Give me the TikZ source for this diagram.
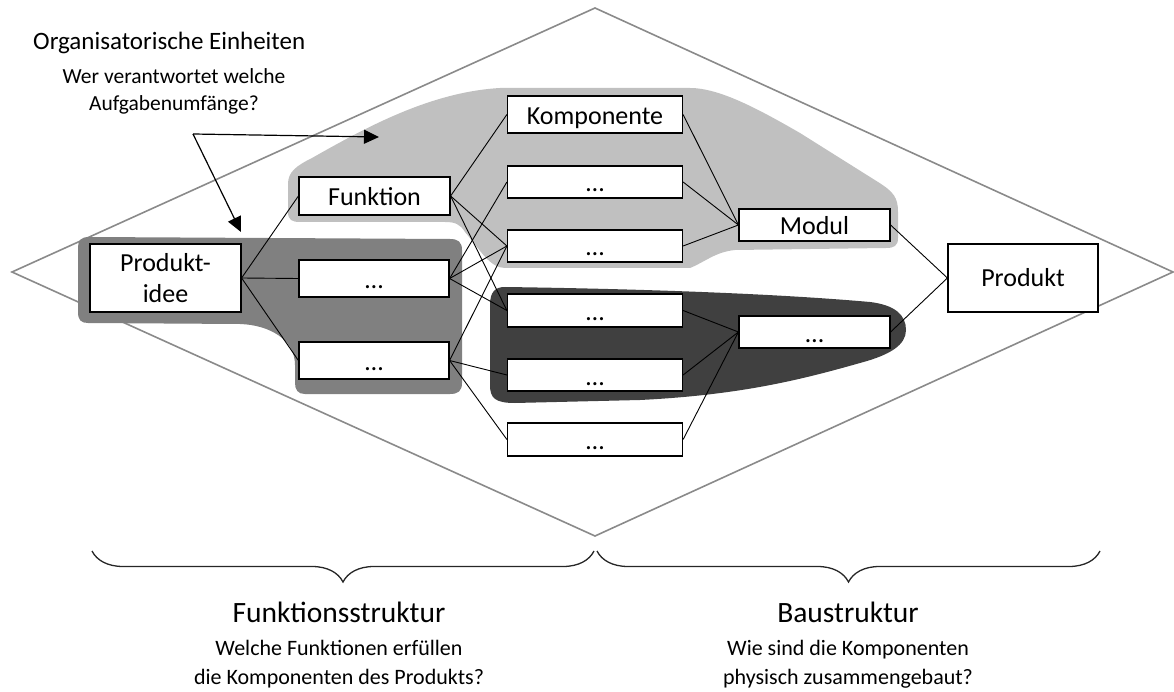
\documentclass[tikz,border=0pt]{standalone}
\usepackage{fontspec}
\setmainfont{Carlito}
\usetikzlibrary{arrows.meta,decorations.pathreplacing}
\definecolor{blobLight}{HTML}{C0C0C0}
\definecolor{blobMid}{HTML}{808080}
\definecolor{blobDark}{HTML}{404040}
\definecolor{frameGray}{HTML}{8A8A8A}

\begin{document}
\begin{tikzpicture}[x=1pt,y=-1pt,
  stepbox/.style={draw=black, line width=1.2pt, fill=white, inner sep=0pt,
    font=\fontsize{26}{31}\selectfont, text height=20pt, text depth=0pt},
  bigbox/.style={draw=black, line width=1.2pt, fill=white, inner sep=0pt,
    font=\fontsize{26}{31}\selectfont, align=center},
  link/.style={line width=0.9pt, black},
  pointer/.style={line width=1.2pt, black, -{Triangle[length=15pt,width=14pt]}},
  bracestyle/.style={line width=1.3pt, black!85, decorate},
  topheading/.style={inner sep=0pt, font=\fontsize{25}{30}\selectfont},
  heading/.style={inner sep=0pt, font=\fontsize{29.5}{34}\selectfont},
  topquestion/.style={inner sep=0pt, align=center, font=\fontsize{21.5}{27}\selectfont},
  question/.style={inner sep=0pt, align=center, font=\fontsize{22}{29.5}\selectfont},
]
\useasboundingbox (0,0) rectangle (1174,692);

% outer frame
\draw[frameGray, line width=1.6pt, line join=miter]
  (12,272) -- (595,8) -- (1173,272) -- (595,536) -- cycle;

% organisational units
\fill[blobLight]
  (288,212) -- (288,184)
  .. controls (288,172) and (296,166) .. (312,158)
  .. controls (365,128) and (430,92) .. (500,88)
  -- (690,88)
  .. controls (720,88) and (760,110) .. (800,133)
  -- (878,182)
  .. controls (894,192) and (898,198) .. (898,212)
  -- (898,238)
  .. controls (898,246) and (894,248) .. (886,248)
  -- (735,250)
  .. controls (715,252) and (705,262) .. (690,268)
  -- (505,268)
  .. controls (490,268) and (480,250) .. (465,232)
  .. controls (460,224) and (455,222) .. (445,222)
  -- (300,222)
  .. controls (292,222) and (288,220) .. (288,212) -- cycle;

\fill[blobMid]
  (78,250) .. controls (78,240) and (80,237) .. (90,237)
  -- (450,239) .. controls (458,239) and (462,242) .. (462,250)
  -- (462,383) .. controls (462,391) and (458,394) .. (450,394)
  -- (305,394) .. controls (298,394) and (295,390) .. (295,383)
  -- (295,365) .. controls (295,340) and (270,325) .. (240,324)
  -- (88,323) .. controls (81,323) and (78,320) .. (78,312) -- cycle;

\fill[blobDark]
  (490,305) .. controls (490,292) and (495,287) .. (505,287)
  .. controls (650,289) and (780,294) .. (870,302)
  .. controls (895,305) and (906,315) .. (906,330)
  .. controls (906,345) and (890,355) .. (860,363)
  .. controls (800,380) and (740,395) .. (640,400)
  -- (515,403)
  .. controls (495,403) and (490,398) .. (490,385) -- cycle;

% structure elements
\node[bigbox, minimum width=151pt, minimum height=68pt] (idee) at (165.5,278) {Produkt-\\idee};
\node[stepbox, minimum width=151pt, minimum height=38pt] (fkt) at (374.5,196) {Funktion};
\node[stepbox, minimum width=150pt, minimum height=37pt] (m1) at (374,278.5) {…};
\node[stepbox, minimum width=150pt, minimum height=37pt] (m2) at (374,360.5) {…};
\node[stepbox, minimum width=175pt, minimum height=37pt] (komp) at (595,114.5) {Komponente};
\node[stepbox, minimum width=175pt, minimum height=32pt] (k2) at (595,182) {…};
\node[stepbox, minimum width=175pt, minimum height=32pt] (k3) at (595,246) {…};
\node[stepbox, minimum width=175pt, minimum height=33pt] (k4) at (595,310.5) {…};
\node[stepbox, minimum width=175pt, minimum height=32pt] (k5) at (595,375) {…};
\node[stepbox, minimum width=175pt, minimum height=33pt] (k6) at (595,439.5) {…};
\node[stepbox, minimum width=151pt, minimum height=32pt] (modul) at (814.5,225) {Modul};
\node[stepbox, minimum width=151pt, minimum height=32pt] (mod2) at (814.5,332) {…};
\node[bigbox, minimum width=150pt, minimum height=68pt] (prod) at (1023,278) {Produkt};

% relations
\draw[link] (idee.east) -- (fkt.west);
\draw[link] (idee.east) -- (m1.west);
\draw[link] (idee.east) -- (m2.west);
\draw[link] (fkt.east) -- (komp.west);
\draw[link] (fkt.east) -- (k3.west);
\draw[link] (fkt.east) -- (k4.west);
\draw[link] (m1.east) -- (k2.west);
\draw[link] (m1.east) -- (k3.west);
\draw[link] (m1.east) -- (k4.west);
\draw[link] (m2.east) -- (k3.west);
\draw[link] (m2.east) -- (k5.west);
\draw[link] (m2.east) -- (k6.west);
\draw[link] (komp.east) -- (modul.west);
\draw[link] (k2.east) -- (modul.west);
\draw[link] (k3.east) -- (modul.west);
\draw[link] (k4.east) -- (mod2.west);
\draw[link] (k5.east) -- (mod2.west);
\draw[link] (k6.east) -- (mod2.west);
\draw[link] (modul.east) -- (prod.west);
\draw[link] (mod2.east) -- (prod.west);

% organisational question
\node[topheading, anchor=base west] (org) at (33,50) {Organisatorische Einheiten};
\node[topquestion, anchor=north] (wer) at (174,68) {Wer verantwortet welche\\Aufgabenumfänge?};
\coordinate (fork) at (193,134);
\coordinate (tipA) at (379,137);
\coordinate (tipB) at (241,232);
\draw[pointer] (fork) -- (tipA);
\draw[pointer] (fork) -- (tipB);

% braces and their captions
\draw[bracestyle, decoration={brace, mirror, amplitude=31pt}] (92,551) -- (594,551);
\draw[bracestyle, decoration={brace, mirror, amplitude=31pt}] (597,551) -- (1100,551);
\node[heading, anchor=base] (fs) at (339,622) {Funktionsstruktur};
\node[heading, anchor=base] (bs) at (848,622) {Baustruktur};
\node[question, anchor=north] (fsq) at (339,640) {Welche Funktionen erfüllen\\die Komponenten des Produkts?};
\node[question, anchor=north] (bsq) at (848,640) {Wie sind die Komponenten\\physisch zusammengebaut?};
\end{tikzpicture}
\end{document}
